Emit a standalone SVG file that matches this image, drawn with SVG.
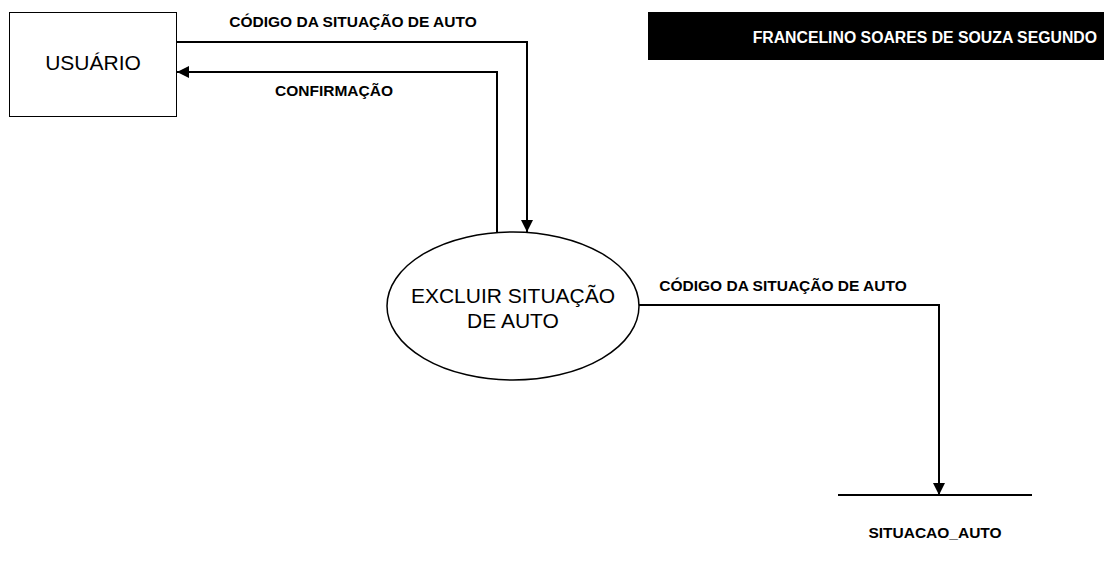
<svg xmlns="http://www.w3.org/2000/svg" width="1104" height="588" viewBox="0 0 1104 588">
<style>
.lbl{font-family:"Liberation Sans",Arial,sans-serif;font-size:15.5px;font-weight:bold;fill:#000}
.big{font-family:"Liberation Sans",Arial,sans-serif;font-size:21px;fill:#000}
.flow{fill:none;stroke:#000;stroke-width:2}
</style>
<defs>
<marker id="ahb" viewBox="0 0 10 10" refX="10" refY="5" markerWidth="12" markerHeight="15" markerUnits="userSpaceOnUse" orient="auto">
<path d="M0,0 L10,5 L0,10 z" fill="#000"/>
</marker>
</defs>
<rect width="1104" height="588" fill="#fff"/>
<g id="title">
<rect x="648" y="12" width="456" height="48" fill="#000"/>
<text x="1097" y="43" text-anchor="end" style="font-family:'Liberation Sans',Arial,sans-serif;font-size:15.8px;font-weight:bold;fill:#fff">FRANCELINO SOARES DE SOUZA SEGUNDO</text>
</g>
<g id="usuario">
<rect x="9.5" y="12.5" width="167" height="104" fill="#fff" stroke="#000" stroke-width="1"/>
<text x="93" y="70" text-anchor="middle" class="big">USUÁRIO</text>
</g>
<g id="excluir">
<ellipse cx="513" cy="306" rx="126" ry="74" fill="#fff" stroke="#000" stroke-width="1.5"/>
<text x="513" y="303" text-anchor="middle" class="big">EXCLUIR SITUAÇÃO</text>
<text x="513" y="328" text-anchor="middle" class="big">DE AUTO</text>
</g>
<g id="situacao_auto">
<line x1="838" y1="495" x2="1032" y2="495" stroke="#000" stroke-width="2"/>
<text x="935" y="538" text-anchor="middle" class="lbl">SITUACAO_AUTO</text>
</g>
<g id="connectors">
<path class="flow" d="M177,42 H527 V232" marker-end="url(#ahb)"/>
<path class="flow" d="M497,233 V72 H177" marker-end="url(#ahb)"/>
<path class="flow" d="M639,305 H939 V495" marker-end="url(#ahb)"/>
<text x="353" y="27" text-anchor="middle" class="lbl">CÓDIGO DA SITUAÇÃO DE AUTO</text>
<text x="334" y="96" text-anchor="middle" class="lbl">CONFIRMAÇÃO</text>
<text x="783" y="291" text-anchor="middle" class="lbl">CÓDIGO DA SITUAÇÃO DE AUTO</text>
</g>
</svg>
